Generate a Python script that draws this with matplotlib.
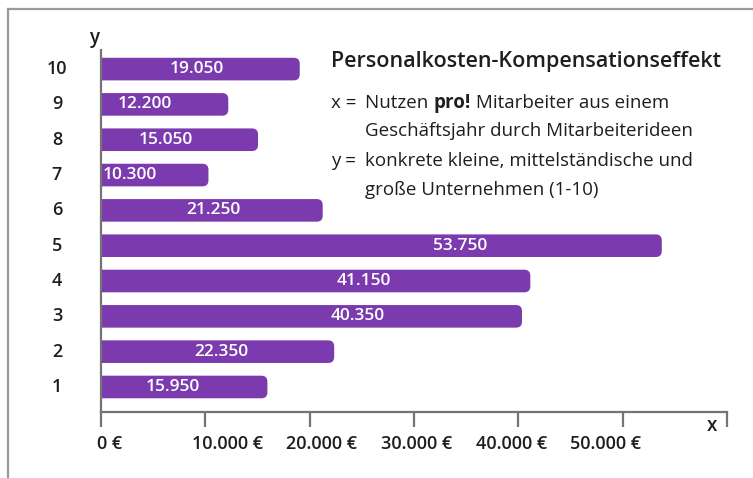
import numpy as np
import matplotlib.pyplot as plt
from matplotlib.patches import FancyBboxPatch
from matplotlib.lines import Line2D

# Data
firmen = [1, 2, 3, 4, 5, 6, 7, 8, 9, 10]
nutzen = [15950, 22350, 40350, 41150, 53750, 21250, 10300, 15050, 12200, 19050]
bar_labels = ['15.950', '22.350', '40.350', '41.150', '53.750',
              '21.250', '10.300', '15.050', '12.200', '19.050']
x_ticks = [0, 10000, 20000, 30000, 40000, 50000, 60000]
x_ticklabels = ['0 €', '10.000 €', '20.000 €', '30.000 €', '40.000 €', '50.000 €', '']

W, H = 753, 478
purple = '#7b3bae'
axis_grey = '#747474'
txt = '#1e1e1e'
font = 'Open Sans'

fig = plt.figure(figsize=(W / 100, H / 100), dpi=100)
ax = fig.add_axes([101 / W, 66 / H, 626 / W, 362 / H])
ax.set_xlim(0, 60000)
ax.set_ylim(0.292, 10.54)

# rounded bars; the left end starts behind the axis and gets clipped square
bh = 0.64
px_x = 60000 / 626
px_y = (10.54 - 0.292) / 362
r = 6 * px_x
for y, v, lab in zip(firmen, nutzen, bar_labels):
    box = FancyBboxPatch((-3 * r, y - bh / 2), v + 3 * r, bh,
                         boxstyle=f'round,pad=0,rounding_size={r}',
                         mutation_aspect=px_y / px_x,
                         fc=purple, ec='none', zorder=2)
    ax.add_patch(box)
    ax.text(0.727 * v - 4700, y, lab, color='white', ha='center', va='center',
            fontsize=12.5, family=font, fontweight='semibold', zorder=3)

for s in ['top', 'right']:
    ax.spines[s].set_visible(False)
for s in ['left', 'bottom']:
    ax.spines[s].set_color(axis_grey)
    ax.spines[s].set_linewidth(1.6)
    ax.spines[s].set_zorder(4)

ax.set_xticks(x_ticks)
ax.set_xticklabels([])
ax.tick_params(axis='x', direction='out', length=11, width=1.6, color=axis_grey)
ax.set_yticks(firmen)
ax.set_yticklabels([])
ax.tick_params(axis='y', length=0)

# x tick labels, left aligned and evenly spread as in the original
for t, lab in zip(x_ticks, x_ticklabels):
    ax.text(t * 0.908 - 400, -32 / 362, lab, transform=ax.get_xaxis_transform(),
            ha='left', va='center', fontsize=13, family=font, fontweight='semibold', color=txt)
# y tick labels centred left of the axis
ylab_tr = ax.get_yaxis_transform().__class__(fig.transFigure, ax.transData)
for y in firmen:
    ax.text(57 / W, y, str(y), transform=ylab_tr,
            ha='center', va='center', fontsize=13, family=font, fontweight='semibold', color=txt)

fig.text(94 / W, 1 - 38 / H, 'y', ha='center', va='center', fontsize=13.5,
         family=font, fontweight='semibold', color=txt)
fig.text(712 / W, 1 - 426 / H, 'x', ha='center', va='center', fontsize=13.5,
         family=font, fontweight='semibold', color=txt)

# title and explanation
fig.text(331 / W, 1 - 61 / H, 'Personalkosten-Kompensationseffekt', ha='left', va='center',
         fontsize=15.5, family=font, fontweight='semibold', color=txt)
body = dict(ha='left', va='center', fontsize=13.5, family=font, color=txt)
fig.text(331 / W, 1 - 103 / H, 'x =', **body)
fig.canvas.draw()
rend = fig.canvas.get_renderer()
t1 = fig.text(365 / W, 1 - 103 / H, 'Nutzen ', **body)
x1 = t1.get_window_extent(rend).x1
t2 = fig.text(x1 / W, 1 - 103 / H, 'pro!', **{**body, 'fontweight': 'bold'})
x2 = t2.get_window_extent(rend).x1
fig.text(x2 / W, 1 - 103 / H, ' Mitarbeiter aus einem', **body)
fig.text(365 / W, 1 - 131 / H, 'Geschäftsjahr durch Mitarbeiterideen', **body)
fig.text(331 / W, 1 - 161 / H, 'y =', **body)
fig.text(365 / W, 1 - 161 / H, 'konkrete kleine, mittelständische und', **body)
fig.text(365 / W, 1 - 190 / H, 'große Unternehmen (1-10)', **body)

# scanned page frame
fig.add_artist(Line2D([8 / W, 1], [1 - 9 / H, 1 - 9 / H], transform=fig.transFigure,
                      color='#9a9a9a', lw=1.6))
fig.add_artist(Line2D([8 / W, 8 / W], [0, 1 - 9 / H], transform=fig.transFigure,
                      color='#9a9a9a', lw=1.6))

fig.savefig('out.png', dpi=100)
